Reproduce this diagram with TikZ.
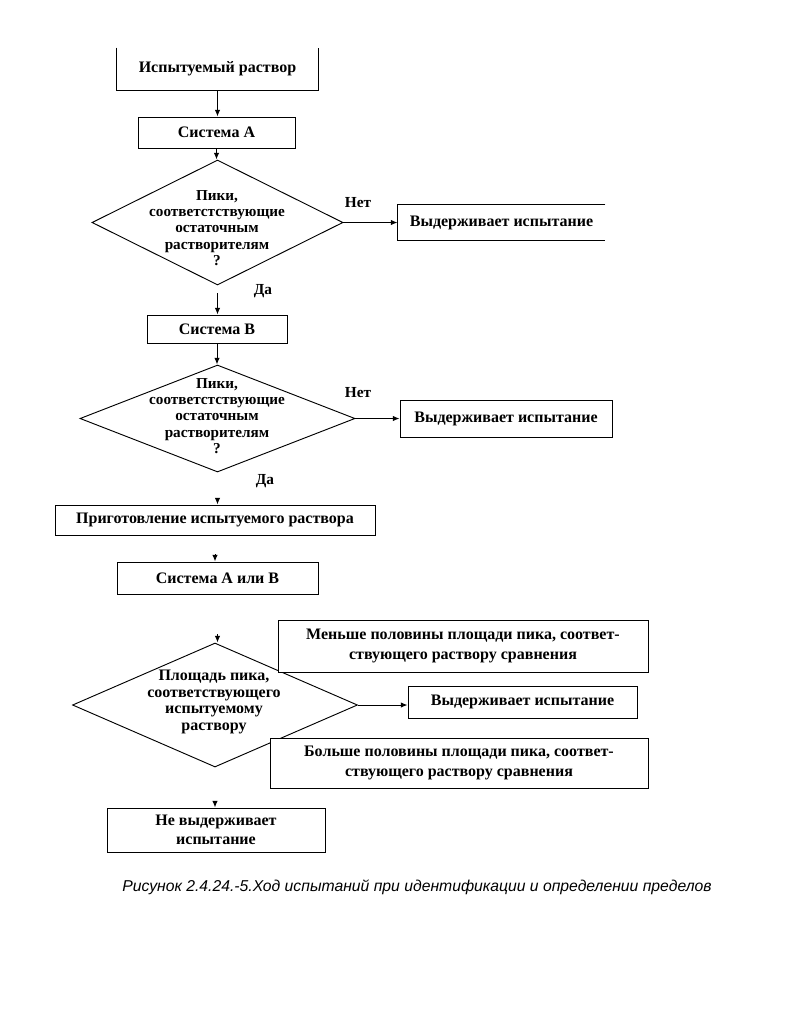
\documentclass[tikz,border=0pt]{standalone}
\usepackage{fontspec}
\setmainfont{Liberation Serif}
\newfontfamily\capfont{Liberation Sans}
\usetikzlibrary{shapes.geometric,arrows.meta}
\begin{document}
\begin{tikzpicture}[x=0.75pt,y=-0.75pt,
  lw/.style={line width=0.7pt},
  box/.style={lw, draw, fill=white, inner sep=0pt, align=center, font=\fontsize{12}{14.8}\selectfont\bfseries},
  nbox/.style={box, draw=none},
  dia/.style={lw, draw, diamond, inner sep=0pt},
  txt/.style={align=center, inner sep=0pt, font=\fontsize{11.4}{12.2}\selectfont\bfseries},
  lbl/.style={inner sep=0pt, font=\fontsize{11.5}{13}\selectfont\bfseries},
  arr/.style={lw, -{Latex[length=5pt,width=4pt]}}]
\useasboundingbox (0,0) rectangle (806,1022);

% column 1
\node[nbox, minimum width=150.75pt, minimum height=31.5pt] (b1) at (217.5,69) {Испытуемый раствор};
\draw[lw] (b1.north west) -- (b1.south west) -- (b1.south east) -- (b1.north east);
\node[box, minimum width=117.75pt, minimum height=23.25pt] (b2) at (216.5,132.5) {Система А};

\node[dia, minimum width=188.25pt, minimum height=93.75pt] (d1) at (217.5,222.5) {};
\node[txt] (t1) at (217,228) {Пики,\\соответстствующие\\остаточным\\растворителям\\?};
\node[nbox, minimum width=155.25pt, minimum height=26.25pt] (r1) at (501.5,222.5) {Выдерживает испытание};
\draw[lw] (r1.north east) -- (r1.north west) -- (r1.south west) -- (r1.south east);
\node[lbl] (n1) at (358,203) {Нет};
\node[lbl] (y1) at (263,291) {Да};

\node[box, minimum width=105pt, minimum height=21pt] (b3) at (217,329) {Система В};

\node[dia, minimum width=206.25pt, minimum height=80.25pt] (d2) at (217.5,418.5) {};
\node[txt] (t2) at (217,416) {Пики,\\соответстствующие\\остаточным\\растворителям\\?};
\node[box, minimum width=159pt, minimum height=27.75pt] (r2) at (506,418.5) {Выдерживает испытание};
\node[lbl] (n2) at (358,393) {Нет};
\node[lbl] (y2) at (265,481) {Да};

\node[box, minimum width=240pt, minimum height=22.5pt] (b4) at (215,520) {Приготовление испытуемого раствора};
\node[box, minimum width=150.75pt, minimum height=24pt] (b5) at (217.5,578) {Система А или В};

\node[dia, minimum width=213.75pt, minimum height=93pt] (d3) at (215,705) {};
\node[txt, font=\fontsize{12}{12.5}\selectfont\bfseries] (t3) at (214,702) {Площадь пика,\\соответствующего\\испытуемому\\раствору};
\node[box, minimum width=277.5pt, minimum height=39pt] (r3) at (463,646) {Меньше половины площади пика, соответ-\\ствующего раствору сравнения};
\node[box, minimum width=171.75pt, minimum height=24pt] (r4) at (522.5,702) {Выдерживает испытание};
\node[box, minimum width=283.5pt, minimum height=37.5pt] (r5) at (459,763) {Больше половины площади пика, соответ-\\ствующего раствору сравнения};

\node[box, minimum width=163.5pt, minimum height=33pt, font=\fontsize{12}{14.3}\selectfont\bfseries] (b6) at (216,830) {Не выдерживает\\испытание};

\node[inner sep=0pt, font=\capfont\itshape\fontsize{11.8}{13}\selectfont] (cap) at (417,887) {Рисунок 2.4.24.-5.Ход испытаний при идентификации и определении пределов};

% connectors
\draw[arr] (b1.south) -- (b1.south |- b2.north);
\draw[arr] (b2.south) -- (b2.south |- d1.north);
\draw[arr] (d1.east) -- (d1.east -| r1.west);
\draw[arr, shorten <=6pt] (d1.south) -- (d1.south |- b3.north);
\draw[arr] (b3.south) -- (b3.south |- d2.north);
\draw[arr] (d2.east) -- (d2.east -| r2.west);
\draw[arr, shorten <=20pt] (d2.south) -- (d2.south |- b4.north);
\draw[arr, shorten <=14pt] (b4.south) -- (b4.south |- b5.north);
\draw[arr, shorten <=30pt] (b5.south) -- (b5.south |- d3.north);
\draw[arr] (d3.east) -- (d3.east -| r4.west);
\draw[arr, shorten <=26pt] (d3.south) -- (d3.south |- b6.north);
\end{tikzpicture}
\end{document}
